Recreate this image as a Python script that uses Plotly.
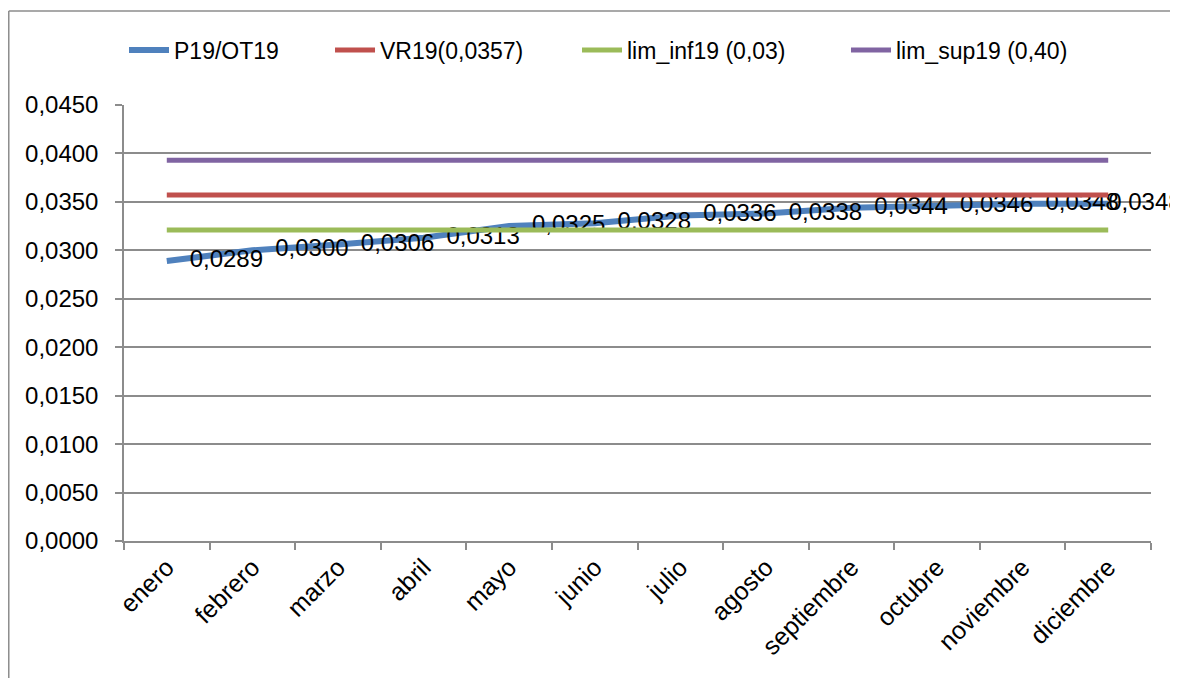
import plotly.graph_objects as go

months = ["enero", "febrero", "marzo", "abril", "mayo", "junio", "julio",
          "agosto", "septiembre", "octubre", "noviembre", "diciembre"]
p19_ot19 = [0.0289, 0.0300, 0.0306, 0.0313, 0.0325, 0.0328, 0.0336,
            0.0338, 0.0344, 0.0346, 0.0348, 0.0348]
vr19 = [0.0357] * 12
lim_inf19 = [0.0321] * 12
lim_sup19 = [0.0393] * 12

FONT = "Liberation Sans"
GRID = "#8c8c8c"

fig = go.Figure()
fig.add_trace(go.Scatter(
    x=months, y=p19_ot19, name="P19/OT19", legend="legend",
    mode="lines+markers+text",
    line=dict(color="#4F81BD", width=6),
    marker=dict(size=[35] * 11 + [0], color="rgba(0,0,0,0)", line=dict(width=0)),
    texttemplate="%{y:.4f}", textposition="middle right",
    textfont=dict(family=FONT, size=24, color="black"),
    cliponaxis=False,
))
fig.add_trace(go.Scatter(x=months, y=vr19, name="VR19(0,0357)", mode="lines",
                         legend="legend2", line=dict(color="#C0504D", width=5)))
fig.add_trace(go.Scatter(x=months, y=lim_inf19, name="lim_inf19 (0,03)", mode="lines",
                         legend="legend3", line=dict(color="#9BBB59", width=5)))
fig.add_trace(go.Scatter(x=months, y=lim_sup19, name="lim_sup19 (0,40)", mode="lines",
                         legend="legend4", line=dict(color="#8064A2", width=5)))

def leg(x):
    return dict(orientation="h", x=x, xanchor="left", y=1.126, yanchor="middle",
                font=dict(family=FONT, size=23), itemwidth=40,
                bgcolor="rgba(0,0,0,0)")

fig.update_layout(
    width=1178, height=678,
    margin=dict(l=116, r=35, t=97, b=145),
    paper_bgcolor="white", plot_bgcolor="white",
    separators=",.",
    font=dict(family=FONT, color="black"),
    showlegend=True,
    legend=leg(0.0), legend2=leg(0.2006), legend3=leg(0.4411), legend4=leg(0.7030),
    shapes=[
        dict(type="line", xref="paper", yref="paper", x0=-0.1122, x1=1.2,
             y0=1.2156, y1=1.2156, line=dict(color="#8c8c8c", width=1.5)),
        dict(type="line", xref="paper", yref="paper", x0=-0.1122, x1=-0.1122,
             y0=1.2156, y1=-0.5, line=dict(color="#8c8c8c", width=1.5)),
    ],
)
fig.update_xaxes(
    type="category", tickangle=-45, tickson="boundaries",
    ticks="outside", ticklen=7, tickcolor=GRID, tickwidth=1.5,
    showline=True, linecolor=GRID, linewidth=1.5,
    showgrid=False, tickfont=dict(family=FONT, size=25),
    range=[-0.5, 11.5],
)
fig.update_yaxes(
    range=[0, 0.045], dtick=0.005, tickformat=".4f",
    ticks="outside", ticklen=7, tickcolor=GRID, tickwidth=1.5,
    showline=True, linecolor=GRID, linewidth=1.5,
    showgrid=True, gridcolor=GRID, gridwidth=1.5,
    zeroline=False, tickfont=dict(family=FONT, size=24),
    ticklabelstandoff=12,
)

fig.write_html("out.html")
